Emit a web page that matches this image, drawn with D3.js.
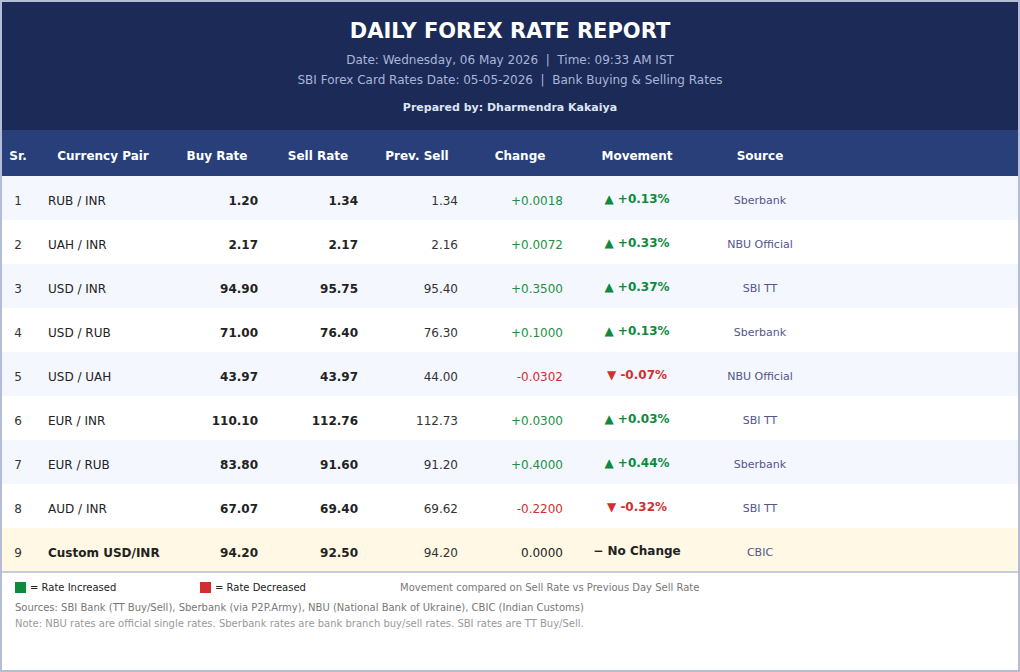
<!DOCTYPE html>
<meta charset="utf-8">
<style>
  body { margin: 0; background: #fff; font-family: "DejaVu Sans", sans-serif; }
  svg text { font-family: "DejaVu Sans", sans-serif; }
</style>
<body>
<div id="chart"></div>
<script src="https://cdn.jsdelivr.net/npm/d3@7"></script>
<script>
// table data
const serials = [1, 2, 3, 4, 5, 6, 7, 8, 9];
const pairs = ["RUB / INR", "UAH / INR", "USD / INR", "USD / RUB", "USD / UAH", "EUR / INR", "EUR / RUB", "AUD / INR", "Custom USD/INR"];
const buyRates = ["1.20", "2.17", "94.90", "71.00", "43.97", "110.10", "83.80", "67.07", "94.20"];
const sellRates = ["1.34", "2.17", "95.75", "76.40", "43.97", "112.76", "91.60", "69.40", "92.50"];
const prevSells = ["1.34", "2.16", "95.40", "76.30", "44.00", "112.73", "91.20", "69.62", "94.20"];
const changes = [0.0018, 0.0072, 0.35, 0.1, -0.0302, 0.03, 0.4, -0.22, 0];
const pctMoves = [0.13, 0.33, 0.37, 0.13, -0.07, 0.03, 0.44, -0.32, 0];
const sources = ["Sberbank", "NBU Official", "SBI TT", "Sberbank", "NBU Official", "SBI TT", "Sberbank", "SBI TT", "CBIC"];
const headers = ["Sr.", "Currency Pair", "Buy Rate", "Sell Rate", "Prev. Sell", "Change", "Movement", "Source"];

const width = 1020, height = 672;
const navy = "#1b2a57", band = "#283f79", green = "#0d8a3c", red = "#d32f2f";

const rows = serials.map((s, i) => ({
  sr: s, pair: pairs[i], buy: buyRates[i], sell: sellRates[i], prev: prevSells[i],
  chg: changes[i], pct: pctMoves[i], src: sources[i], custom: i === serials.length - 1
}));

const svg = d3.select("#chart").append("svg")
  .attr("width", width).attr("height", height)
  .attr("viewBox", [0, 0, width, height]);

// title band
svg.append("rect").attr("x", 2).attr("y", 2).attr("width", width - 4).attr("height", 128).attr("fill", navy);
svg.append("text").attr("x", width / 2).attr("y", 31).attr("dy", "0.35em")
  .attr("text-anchor", "middle").attr("fill", "#fff")
  .style("font-size", "21px").style("font-weight", "bold")
  .text("DAILY FOREX RATE REPORT");
svg.append("text").attr("x", width / 2).attr("y", 60).attr("dy", "0.35em")
  .attr("text-anchor", "middle").attr("fill", "#aab6d8").style("font-size", "12px")
  .attr("xml:space", "preserve")
  .text("Date: Wednesday, 06 May 2026  |  Time: 09:33 AM IST");
svg.append("text").attr("x", width / 2).attr("y", 80).attr("dy", "0.35em")
  .attr("text-anchor", "middle").attr("fill", "#aab6d8").style("font-size", "12px")
  .attr("xml:space", "preserve")
  .text("SBI Forex Card Rates Date: 05-05-2026  |  Bank Buying & Selling Rates");
svg.append("text").attr("x", width / 2).attr("y", 107).attr("dy", "0.35em")
  .attr("text-anchor", "middle").attr("fill", "#dfe4f2")
  .style("font-size", "11px").style("font-weight", "bold")
  .text("Prepared by: Dharmendra Kakaiya");

// column header band
svg.append("rect").attr("x", 2).attr("y", 130).attr("width", width - 4).attr("height", 46).attr("fill", band);

const headX = [18, 103, 217, 318, 417, 520, 637, 760];
svg.selectAll("text.head").data(headers).join("text")
  .attr("class", "head")
  .attr("x", (d, i) => headX[i]).attr("y", 155.5).attr("dy", "0.35em")
  .attr("text-anchor", "middle").attr("fill", "#fff")
  .style("font-size", "12px").style("font-weight", "bold")
  .text(d => d);

// rows
const y = d3.scaleBand().domain(d3.range(rows.length)).range([176, 572]);

const rowG = svg.selectAll("g.row").data(rows).join("g")
  .attr("class", "row")
  .attr("transform", (d, i) => `translate(0,${y(i)})`);

rowG.append("rect").attr("x", 2).attr("width", width - 4).attr("height", y.bandwidth())
  .attr("fill", (d, i) => d.custom ? "#fef8e4" : (i % 2 === 0 ? "#f4f7fe" : "#ffffff"));

const mid = y.bandwidth() / 2 + 2.5;
const fmtChg = v => (v > 0 ? "+" : v < 0 ? "-" : "") + Math.abs(v).toFixed(4);
const colorOf = v => v > 0 ? green : v < 0 ? red : "#222";

const cell = (x, anchor) => rowG.append("text")
  .attr("x", x).attr("y", mid).attr("dy", "0.35em")
  .attr("text-anchor", anchor).style("font-size", "12px");

cell(18, "middle").attr("fill", "#333").text(d => d.sr);
cell(48, "start").attr("fill", "#222")
  .style("font-weight", d => d.custom ? "bold" : "normal").text(d => d.pair);
cell(258, "end").attr("fill", "#222").style("font-weight", "bold").text(d => d.buy);
cell(358, "end").attr("fill", "#222").style("font-weight", "bold").text(d => d.sell);
cell(458, "end").attr("fill", "#333").text(d => d.prev);
cell(563, "end").attr("fill", d => d.chg === 0 ? "#222" : (d.chg > 0 ? "#1f8f45" : red)).text(d => fmtChg(d.chg));
cell(637, "middle").attr("y", mid - 1.5)
  .attr("fill", d => colorOf(d.pct)).style("font-weight", "bold")
  .text(d => d.pct > 0 ? `▲ +${d.pct.toFixed(2)}%` : d.pct < 0 ? `▼ -${Math.abs(d.pct).toFixed(2)}%` : "− No Change");
cell(760, "middle").attr("fill", "#55558c").style("font-size", "11px").attr("y", mid - 0.5).text(d => d.src);

// separator under table
svg.append("line").attr("x1", 2).attr("x2", width - 2).attr("y1", 572).attr("y2", 572)
  .attr("stroke", "#b4bdd6").attr("stroke-width", 1.5);

// legend
const legend = [{ c: green, t: "= Rate Increased", x: 15 }, { c: red, t: "= Rate Decreased", x: 200 }];
const lg = svg.selectAll("g.lg").data(legend).join("g").attr("class", "lg")
  .attr("transform", d => `translate(${d.x},582)`);
lg.append("rect").attr("width", 11).attr("height", 11).attr("fill", d => d.c);
lg.append("text").attr("x", 15).attr("y", 5.5).attr("dy", "0.35em")
  .attr("fill", "#222").style("font-size", "10px").text(d => d.t);

svg.append("text").attr("x", 400).attr("y", 587.5).attr("dy", "0.35em")
  .attr("fill", "#777").style("font-size", "10px")
  .text("Movement compared on Sell Rate vs Previous Day Sell Rate");
svg.append("text").attr("x", 15).attr("y", 607).attr("dy", "0.35em")
  .attr("fill", "#777").style("font-size", "10px")
  .text("Sources: SBI Bank (TT Buy/Sell), Sberbank (via P2P.Army), NBU (National Bank of Ukraine), CBIC (Indian Customs)");
svg.append("text").attr("x", 15).attr("y", 623).attr("dy", "0.35em")
  .attr("fill", "#999").style("font-size", "10px")
  .text("Note: NBU rates are official single rates. Sberbank rates are bank branch buy/sell rates. SBI rates are TT Buy/Sell.");

// outer border
svg.append("rect").attr("x", 1).attr("y", 1).attr("width", width - 2).attr("height", height - 2)
  .attr("fill", "none").attr("stroke", "#b4bdd6").attr("stroke-width", 2);
</script>
</body>
